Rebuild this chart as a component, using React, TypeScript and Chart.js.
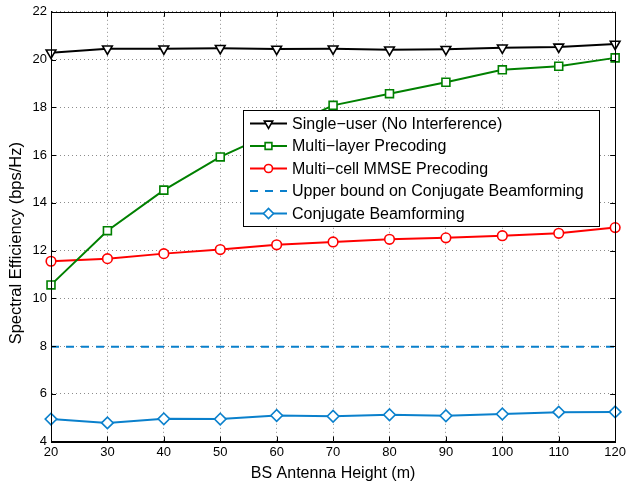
import React, { useEffect, useRef } from "react";
import { Chart, registerables } from "chart.js";
import { drawPoint } from "chart.js/helpers";

Chart.register(...registerables);

const heights = [20, 30, 40, 50, 60, 70, 80, 90, 100, 110, 120];
const singleUser = [20.28, 20.45, 20.45, 20.47, 20.44, 20.45, 20.41, 20.43, 20.49, 20.53, 20.65];
const multiLayer = [10.56, 12.83, 14.53, 15.92, 17.0, 18.08, 18.57, 19.05, 19.57, 19.72, 20.07];
const multiCell = [11.55, 11.66, 11.87, 12.04, 12.24, 12.36, 12.47, 12.53, 12.62, 12.72, 12.96];
const upperBound = [7.97, 7.97, 7.97, 7.97, 7.97, 7.97, 7.97, 7.97, 7.97, 7.97, 7.97];
const conjugate = [4.94, 4.78, 4.95, 4.94, 5.09, 5.06, 5.12, 5.08, 5.15, 5.23, 5.24];

const xTickValues = [20, 30, 40, 50, 60, 70, 80, 90, 100, 110, 120];
const yTickValues = [4, 6, 8, 10, 12, 14, 16, 18, 20, 22];

const seriesLabels = [
  "Single\u2212user (No Interference)",
  "Multi\u2212layer Precoding",
  "Multi\u2212cell MMSE Precoding",
  "Upper bound on Conjugate Beamforming",
  "Conjugate Beamforming",
];

const xTitle = "BS Antenna Height (m)";
const yTitle = "Spectral Efficiency (bps/Hz)";

const FONT = "'Liberation Sans', Arial, Helvetica, sans-serif";
const BLUE = "#0a80cc";
const GREEN = "#008000";

const pts = (ys: number[]) => heights.map((x, i) => ({ x, y: ys[i] }));

const framePlugin = {
  id: "frameAndLegend",
  afterDatasetsDraw(chart: any) {
    const { ctx, chartArea } = chart;
    const { left, right, top, bottom } = chartArea;
    const xs = chart.scales.x;
    const ys = chart.scales.y;
    ctx.save();
    ctx.strokeStyle = "#000";
    ctx.lineWidth = 1;
    ctx.setLineDash([]);
    ctx.strokeRect(Math.round(left) + 0.5, Math.round(top) + 0.5, Math.round(right - left), Math.round(bottom - top));
    const tl = 5;
    ctx.beginPath();
    xTickValues.forEach((v) => {
      const px = Math.round(xs.getPixelForValue(v)) + 0.5;
      ctx.moveTo(px, bottom);
      ctx.lineTo(px, bottom - tl);
      ctx.moveTo(px, top);
      ctx.lineTo(px, top + tl);
    });
    yTickValues.forEach((v) => {
      const py = Math.round(ys.getPixelForValue(v)) + 0.5;
      ctx.moveTo(left, py);
      ctx.lineTo(left + tl, py);
      ctx.moveTo(right, py);
      ctx.lineTo(right - tl, py);
    });
    ctx.stroke();

    // legend box inside the plot
    const x0 = 243, y0 = 110, w = 356, h = 116;
    ctx.fillStyle = "#fff";
    ctx.fillRect(x0, y0, w, h);
    ctx.strokeStyle = "#000";
    ctx.lineWidth = 1;
    ctx.strokeRect(x0 + 0.5, y0 + 0.5, w, h);
    chart.data.datasets.forEach((ds: any, i: number) => {
      const cy = y0 + 13.5 + i * 22.5;
      ctx.save();
      ctx.strokeStyle = ds.borderColor;
      ctx.lineWidth = ds.borderWidth;
      ctx.setLineDash(ds.borderDash || []);
      ctx.beginPath();
      ctx.moveTo(x0 + 7, cy);
      ctx.lineTo(x0 + 44, cy);
      ctx.stroke();
      ctx.setLineDash([]);
      if (ds.pointRadius > 0) {
        ctx.fillStyle = ds.pointBackgroundColor;
        ctx.strokeStyle = ds.pointBorderColor;
        ctx.lineWidth = ds.pointBorderWidth;
        drawPoint(ctx, {
          pointStyle: ds.pointStyle,
          rotation: ds.pointRotation || 0,
          radius: ds.pointRadius - 0.8,
          borderWidth: ds.pointBorderWidth,
        } as any, x0 + 25.5, cy);
      }
      ctx.fillStyle = "#000";
      ctx.font = `16px ${FONT}`;
      ctx.textBaseline = "middle";
      ctx.textAlign = "left";
      ctx.fillText(ds.label, x0 + 49, cy + 1);
      ctx.restore();
    });
    ctx.restore();
  },
};

export default function App() {
  const ref = useRef<HTMLCanvasElement | null>(null);
  useEffect(() => {
    if (!ref.current) return;
    const common = { clip: false as any, borderWidth: 2, pointBorderWidth: 1.6, pointBackgroundColor: "#fff", tension: 0 };
    const chart = new Chart(ref.current, {
      type: "line",
      data: {
        datasets: [
          { ...common, label: seriesLabels[0], data: pts(singleUser), borderColor: "#000", pointBorderColor: "#000", pointStyle: "triangle", pointRotation: 180, pointRadius: 5.6 },
          { ...common, label: seriesLabels[1], data: pts(multiLayer), borderColor: GREEN, pointBorderColor: GREEN, pointStyle: "rect", pointRadius: 5.6 },
          { ...common, label: seriesLabels[2], data: pts(multiCell), borderColor: "#ff0000", pointBorderColor: "#ff0000", pointStyle: "circle", pointRadius: 4.8 },
          { ...common, label: seriesLabels[3], data: pts(upperBound), borderColor: BLUE, pointBorderColor: BLUE, borderDash: [8, 7], pointRadius: 0 },
          { ...common, label: seriesLabels[4], data: pts(conjugate), borderColor: BLUE, pointBorderColor: BLUE, pointStyle: "rectRot", pointRadius: 5.8 },
        ] as any,
      },
      options: {
        animation: false,
        responsive: false,
        devicePixelRatio: 1,
        layout: { padding: { left: 0, right: 11.5, top: 10.5, bottom: 0 } },
        plugins: { legend: { display: false }, tooltip: { enabled: false } },
        scales: {
          x: {
            type: "linear",
            min: 20,
            max: 120,
            afterBuildTicks: (s: any) => { s.ticks = xTickValues.map((v) => ({ value: v })); },
            afterFit: (s: any) => { s.height = 42.5; },
            grid: { color: "rgba(0,0,0,0.45)", drawTicks: false, lineWidth: 1 },
            border: { display: true, color: "#000", dash: [1, 3] },
            ticks: { color: "#000", font: { family: FONT, size: 13 }, padding: 3, maxRotation: 0, autoSkip: false },
            title: { display: true, text: xTitle, color: "#000", font: { family: FONT, size: 16 }, padding: { top: 4, bottom: 1 } },
          },
          y: {
            type: "linear",
            min: 4,
            max: 22,
            afterBuildTicks: (s: any) => { s.ticks = yTickValues.map((v) => ({ value: v })); },
            afterFit: (s: any) => { s.width = 51; },
            grid: { color: "rgba(0,0,0,0.45)", drawTicks: false, lineWidth: 1 },
            border: { display: true, color: "#000", dash: [1, 3] },
            ticks: { color: "#000", font: { family: FONT, size: 13 }, padding: 4 },
            // two trailing em spaces move the centred, rotated title slightly down as in the reference
            title: { display: true, text: yTitle + "\u2003\u2003", color: "#000", font: { family: FONT, size: 16.5 }, padding: { top: 6.5, bottom: 2 } },
          },
        },
      },
      plugins: [framePlugin],
    });
    return () => chart.destroy();
  }, []);
  return (
    <div style={{ position: "absolute", left: 0, top: 0, width: 629, height: 484, background: "#fff" }}>
      <canvas ref={ref} width={629} height={484} style={{ display: "block" }} />
    </div>
  );
}
